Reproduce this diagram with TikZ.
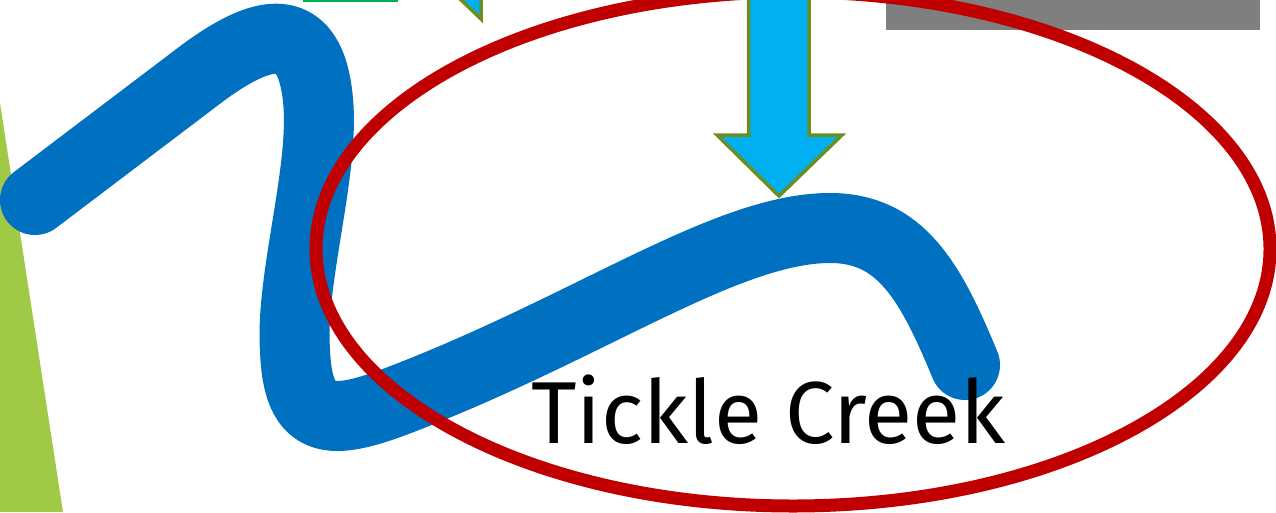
\documentclass[tikz,border=0pt]{standalone}
\usepackage{fontspec}
\setmainfont{Fira Sans}
\usetikzlibrary{positioning}
\definecolor{creekcol}{RGB}{0,112,192}
\definecolor{ringcol}{RGB}{192,0,0}
\definecolor{arrowcol}{RGB}{0,176,240}
\definecolor{edgecol}{RGB}{107,142,35}
\definecolor{grasscol}{RGB}{160,202,70}
\definecolor{slabcol}{RGB}{127,127,127}
\definecolor{barcol}{RGB}{0,176,80}
\tikzset{
  creek/.style  = {draw=creekcol, line width=70pt, line cap=round, line join=round},
  ring/.style   = {draw=ringcol, line width=13pt},
  pointer/.style = {fill=arrowcol, draw=edgecol, line width=3.5pt},
  creeklab/.style = {font=\fontsize{88}{90}\selectfont, text=black,
                     inner sep=0pt, anchor=base west},
}

\begin{document}
\begin{tikzpicture}[x=1pt, y=-1pt]
  \useasboundingbox (0,0) rectangle (1276,512);
  \clip (0,0) rectangle (1276,512);

  % background pieces cut by the frame
  \fill[grasscol] (0,103) -- (63,512) -- (0,512) -- cycle;
  \fill[slabcol] (886,-10) rectangle (1260,30);
  \fill[barcol] (303,-10) rectangle (398,2);
  \draw[pointer] (456,-5) -- (481,19) -- (481,-5);

  % the creek
  \draw[creek] (35,200) -- (200,75)
       .. controls (260,30) and (310,15) .. (318,100)
       .. controls (325,170) and (290,280) .. (295,350)
       .. controls (298,436) and (340,424) .. (420,392)
       .. controls (600,320) and (730,228) .. (830,228)
       .. controls (900,228) and (930,280) .. (965,365);

  \draw[ring] (793,249) ellipse [x radius=477, y radius=257];

  \node[creeklab] (name) at (531,443) {Tickle Creek};

  \draw[pointer] (748.5,-5) -- (748.5,135) -- (717,135) -- (779,196)
       -- (842,135) -- (809,135) -- (809,-5);
\end{tikzpicture}
\end{document}
